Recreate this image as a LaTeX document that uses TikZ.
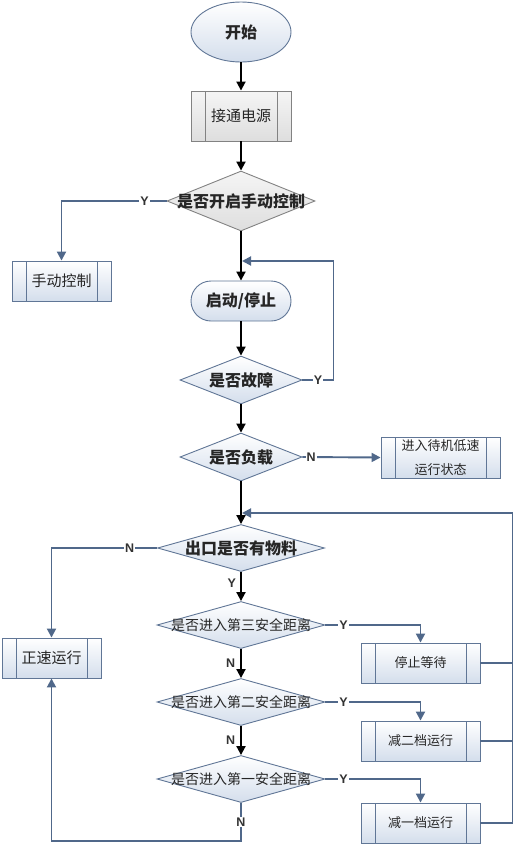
\documentclass[tikz,border=0pt]{standalone}
\usepackage{fontspec}
\setmainfont{Noto Sans CJK SC}
\newfontfamily\ynfont{Liberation Sans}
\usetikzlibrary{shapes.geometric,arrows.meta,positioning,calc}
\definecolor{flowblue}{RGB}{80,104,138}
\definecolor{edgeblue}{RGB}{96,118,150}
\definecolor{edgegrey}{RGB}{130,130,130}
\definecolor{paleblue}{RGB}{212,222,236}
\definecolor{palegrey}{RGB}{222,222,222}
\newcommand{\nowidth}[1]{\makebox[0pt]{#1}}

\begin{document}
\begin{tikzpicture}[x=1pt, y=-1pt,
    txt/.style={text=black!85, inner sep=0pt},
    big/.style={font=\fontsize{16}{18}\selectfont\bfseries},
    mid/.style={font=\fontsize{15}{17}\selectfont},
    small/.style={font=\fontsize{13}{24}\selectfont},
    dist/.style={font=\fontsize{14}{16}\selectfont},
    bluefill/.style={draw=edgeblue, line width=0.9pt, top color=white, bottom color=paleblue},
    greyfill/.style={draw=edgegrey, line width=0.9pt, top color=white!96!black, bottom color=palegrey},
    terminal/.style={ellipse, bluefill, txt, big, minimum width=100pt, minimum height=60pt},
    stadium/.style={rectangle, rounded corners=20pt, bluefill, txt, big, minimum width=100pt, minimum height=40pt},
    proc/.style={rectangle, txt, minimum width=100pt, minimum height=40pt,
                 path picture={\draw[#1, line width=0.9pt]
                   ([xshift=14pt]path picture bounding box.north west) -- ([xshift=14pt]path picture bounding box.south west)
                   ([xshift=-14pt]path picture bounding box.north east) -- ([xshift=-14pt]path picture bounding box.south east);}},
    decide/.style={diamond, txt, inner sep=0pt},
    mainflow/.style={line width=1.9pt, black, -{Triangle[length=9pt,width=9pt]}},
    branch/.style={line width=1.9pt, flowblue, -{Triangle[length=9pt,width=9pt]}},
    joinline/.style={line width=1.9pt, flowblue},
    yn/.style={font=\ynfont\fontsize{12.5}{13}\selectfont\bfseries, text=black!80, fill=white, inner sep=1pt}]
\useasboundingbox (0,0) rectangle (524,852);
% main column
\node[terminal] (start) at (241,32) {开始};
\node[proc=edgegrey, greyfill, mid] (power) at (241,116) [minimum height=50pt] {接通电源};
\node[decide, greyfill, big, minimum width=148pt, minimum height=60pt] (manualq) at (241,201) {\nowidth{是否开启手动控制}};
\node[stadium] (run) at (241,301) {启动/停止};
\node[decide, bluefill, big, minimum width=122pt, minimum height=48pt] (fault) at (241,380) {\nowidth{是否故障}};
\node[decide, bluefill, big, minimum width=122pt, minimum height=48pt] (load) at (241,457) {\nowidth{是否负载}};
\node[decide, bluefill, big, minimum width=167pt, minimum height=47pt] (outlet) at (241,548) {\nowidth{出口是否有物料}};
\node[decide, bluefill, dist, minimum width=168pt, minimum height=47pt] (third) at (241,625) {\nowidth{是否进入第三安全距离}};
\node[decide, bluefill, dist, minimum width=168pt, minimum height=47pt] (second) at (241,702) {\nowidth{是否进入第二安全距离}};
\node[decide, bluefill, dist, minimum width=168pt, minimum height=47pt] (first) at (241,779) {\nowidth{是否进入第一安全距离}};
% side boxes
\node[proc=edgeblue, bluefill, mid, minimum width=99pt] (manual) at (61.5,281) {手动控制};
\node[proc=edgeblue, bluefill, small, minimum width=119pt, minimum height=41pt, align=center] (standby) at (440.5,457.5) {进入待机低速\\运行状态};
\node[proc=edgeblue, bluefill, mid, minimum width=99pt] (forward) at (51.5,658) {正速运行};
\node[proc=edgeblue, bluefill, small, minimum width=119pt] (wait) at (420.5,663) {停止等待};
\node[proc=edgeblue, bluefill, small, minimum width=119pt] (gear2) at (420.5,741) {减二档运行};
\node[proc=edgeblue, bluefill, small, minimum width=119pt] (gear1) at (420.5,823) {减一档运行};
% join points on the main line
\coordinate (faultback) at (242,261);
\coordinate (loopback) at (242,513);
% main flow
\draw[mainflow] (start) -- (power);
\draw[mainflow] (power) -- (manualq);
\draw[mainflow] (manualq) -- (run);
\draw[mainflow] (run) -- (fault);
\draw[mainflow] (fault) -- (load);
\draw[mainflow] (load) -- (outlet);
\draw[mainflow] (outlet) -- node[yn, left=3pt, fill=none, pos=0.4] (youtlet) {Y} (third);
\draw[mainflow] (third) -- node[yn, left=4pt, fill=none] (nthird) {N} (second);
\draw[mainflow] (second) -- node[yn, left=4pt, fill=none] (nsecond) {N} (first);
% branches
\draw[branch] (manualq.west) -| node[yn, pos=0.105] (ymanual) {Y} (manual.north);
\draw[branch] (fault.east) -- node[yn] (yfault) {Y} ++(31,0) |- (faultback);
\draw[branch] (load.east) -- node[yn, pos=0.11] (nload) {N} (standby.west);
\draw[branch] (outlet.west) -| node[yn, pos=0.13] (noutlet) {N} (forward.north);
\draw[branch] (third.east) -| node[yn, pos=0.095] (ythird) {Y} (wait.north);
\draw[branch] (second.east) -| node[yn, pos=0.095] (ysecond) {Y} (gear2.north);
\draw[branch] (first.east) -| node[yn, pos=0.095] (yfirst) {Y} (gear1.north);
\draw[branch] (first.south) -- node[yn] (nfirst) {N} ++(0,38) -| (forward.south);
% return to the outlet check
\draw[joinline] (wait.east) -- ++(32,0);
\draw[joinline] (gear2.east) -- ++(32,0);
\draw[branch] (gear1.east) -- ++(32,0) |- (loopback);
\end{tikzpicture}
\end{document}
